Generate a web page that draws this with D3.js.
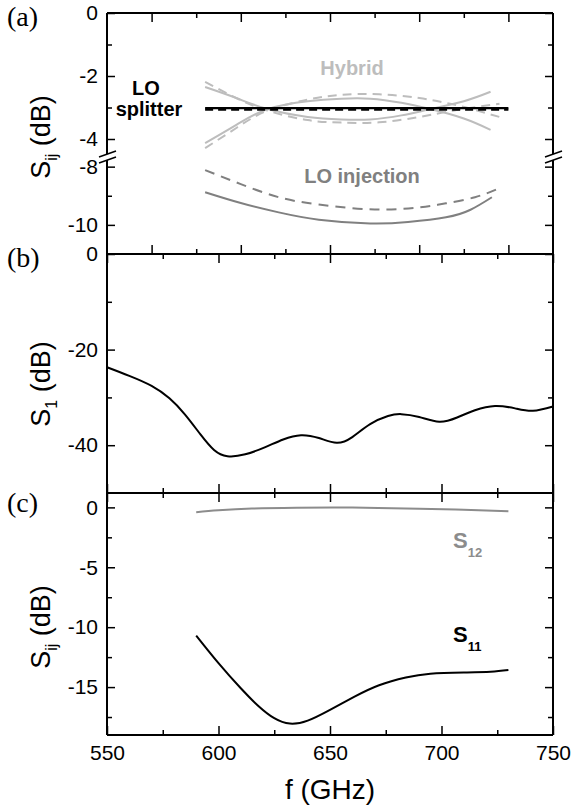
<!DOCTYPE html>
<html>
<head>
<meta charset="utf-8">
<script src="https://cdn.jsdelivr.net/npm/d3@7"></script>
<style>
  body { margin: 0; background: #fff; }
  text { font-family: "Liberation Sans", Arial, sans-serif; }
</style>
</head>
<body>
<div id="chart"></div>
<script>
// ---- data ----
// panel (a): hybrid, LO splitter, LO injection (GHz, dB)
const hybSolidFreq = [594, 608, 622, 640, 655, 668, 682, 695, 710, 722];
const hybSolidA = [-2.35, -2.7, -3.05, -3.3, -3.38, -3.38, -3.25, -3.05, -2.8, -2.5];
const hybSolidB = [-4.13, -3.55, -3.05, -2.8, -2.72, -2.72, -2.85, -3.05, -3.35, -3.71];
const hybDashFreq = [594, 608, 622, 640, 655, 672, 690, 705, 716, 726];
const hybDashA = [-2.19, -2.7, -3.1, -3.4, -3.48, -3.47, -3.3, -3.1, -2.98, -2.88];
const hybDashB = [-4.29, -3.65, -3.1, -2.75, -2.6, -2.58, -2.7, -2.9, -3.1, -3.3];
const splitFreq = [594, 730];
const splitSolid = [-3.02, -3.02];
const splitDash = [-3.07, -3.07];
const injSolidFreq = [594, 610, 627, 645, 668, 685, 702, 713, 722.6];
const injSolid = [-8.88, -9.25, -9.57, -9.82, -9.95, -9.9, -9.74, -9.48, -9.05];
const injDashFreq = [594, 610, 627, 645, 670, 690, 702, 715, 726];
const injDash = [-8.12, -8.6, -9.05, -9.3, -9.47, -9.4, -9.26, -9.05, -8.74];

// panel (b)
const bFreq = [550, 560, 570, 578, 585, 592, 598, 604, 612, 621, 629, 637, 645, 653, 660, 668, 676, 682, 690, 699, 707, 715, 724, 733, 741, 750];
const bVal = [-23.7, -25.5, -27.6, -30.2, -33.6, -37.8, -41.0, -42.3, -41.9, -40.4, -38.8, -37.9, -38.5, -39.5, -38.3, -35.6, -33.9, -33.5, -34.1, -35.1, -34.2, -32.7, -31.8, -32.3, -32.8, -31.9];

// panel (c)
const s12Freq = [590, 600, 615, 635, 660, 690, 710, 730];
const s12Val = [-0.4, -0.25, -0.1, -0.03, -0.02, -0.12, -0.2, -0.33];
const s11Freq = [590, 600, 610, 618, 625, 632, 640, 650, 661, 672, 684, 695, 710, 722, 730];
const s11Val = [-10.7, -13.0, -15.1, -16.6, -17.6, -18.05, -17.8, -16.9, -15.8, -14.85, -14.2, -13.88, -13.78, -13.72, -13.58];

// tick values
const xMajor = [550, 600, 650, 700, 750];
const xMinor = [575, 625, 675, 725];
const aTopMajor = [570, 610, 650, 690, 730];
const aTopMinor = [590, 630, 670, 710];
const aUpperMajor = [0, -2, -4];
const aUpperMinor = [-1, -3];
const aLowerMajor = [-8, -10];
const aLowerMinor = [-9];
const bMajor = [0, -20, -40];
const bMinor = [-10, -30];
const cMajor = [0, -5, -10, -15];
const cMinor = [-2.5, -7.5, -12.5, -17.5];

const W = 572, H = 809;
const svg = d3.select("#chart").append("svg")
    .attr("width", W).attr("height", H);

const L = 107, R = 553;
const aTop = 13, aBot = 254, bBot = 493, cBot = 735, brk = 157;

const x = d3.scaleLinear().domain([550, 750]).range([L, R]);
const yA1 = d3.scaleLinear().domain([-4.5, 0]).range([154.75, aTop]);
const yA2 = d3.scaleLinear().domain([-11, -7.6]).range([aBot, 155]);
const yB = d3.scaleLinear().domain([-50, 0]).range([bBot, aBot]);
const yC = d3.scaleLinear().domain([-19, 1.2]).range([cBot, bBot]);

const zip = (f, v) => f.map((d, i) => [d, v[i]]);
const plain = d => String(d);

function drawLine(ys, f, v, color, dash, width) {
    const line = d3.line()
        .x(d => x(d[0]))
        .y(d => ys(d[1]))
        .curve(d3.curveNatural);
    svg.append("path")
        .attr("d", line(zip(f, v)))
        .attr("fill", "none")
        .attr("stroke", color)
        .attr("stroke-width", width || 2)
        .attr("stroke-dasharray", dash || null);
}

// y axis ticks on both sides (inward)
function yTicks(scale, major, minor) {
    svg.append("g").attr("transform", `translate(${L},0)`)
        .call(d3.axisLeft(scale).tickValues(major).tickSize(-8).tickPadding(9).tickFormat(plain));
    svg.append("g").attr("transform", `translate(${L},0)`)
        .call(d3.axisLeft(scale).tickValues(minor).tickSize(-5).tickFormat(""));
    svg.append("g").attr("transform", `translate(${R},0)`)
        .call(d3.axisRight(scale).tickValues(major).tickSize(-8).tickFormat(""));
    svg.append("g").attr("transform", `translate(${R},0)`)
        .call(d3.axisRight(scale).tickValues(minor).tickSize(-5).tickFormat(""));
}

// x ticks pointing into a panel; dir = 1 -> down, -1 -> up
function xTicks(yPos, major, minor, dir, labels) {
    const mk = dir > 0 ? d3.axisTop : d3.axisBottom;
    svg.append("g").attr("transform", `translate(0,${yPos})`)
        .call(mk(x).tickValues(major).tickSize(-9).tickPadding(labels ? 10 : 0)
            .tickFormat(labels ? plain : ""));
    svg.append("g").attr("transform", `translate(0,${yPos})`)
        .call(mk(x).tickValues(minor).tickSize(-5).tickFormat(""));
}

yTicks(yA1, aUpperMajor, aUpperMinor);
yTicks(yA2, aLowerMajor, aLowerMinor);
yTicks(yB, bMajor, bMinor);
yTicks(yC, cMajor, cMinor);

xTicks(aTop, aTopMajor, aTopMinor, 1, false);
xTicks(aBot, aTopMajor, aTopMinor, -1, false);
xTicks(aBot, xMajor, xMinor, 1, false);
xTicks(bBot, xMajor, xMinor, -1, false);
xTicks(bBot, xMajor, xMinor, 1, false);
xTicks(cBot, xMajor, xMinor, -1, true);

svg.selectAll(".domain").remove();
svg.selectAll(".tick line").attr("stroke", "#000").attr("stroke-width", 1.5);
svg.selectAll(".tick text").attr("font-size", 21).attr("fill", "#000")
    .style("font-family", "'Liberation Sans', Arial, sans-serif");

// frames
const frame = svg.append("g").attr("stroke", "#000").attr("stroke-width", 2).attr("fill", "none");
[[L, aTop, R, aTop], [L, aBot, R, aBot], [L, bBot, R, bBot], [L, cBot, R, cBot],
 [L, aTop, L, brk - 3], [L, brk + 3, L, cBot], [R, aTop, R, brk - 3], [R, brk + 3, R, cBot]]
    .forEach(s => frame.append("line").attr("x1", s[0]).attr("y1", s[1]).attr("x2", s[2]).attr("y2", s[3]));
// axis break marks
[L, R].forEach(cx => {
    [-3, 3].forEach(o => {
        svg.append("line")
            .attr("x1", cx - 8).attr("y1", brk + o + 3)
            .attr("x2", cx + 9).attr("y2", brk + o - 3)
            .attr("stroke", "#000").attr("stroke-width", 1.5);
    });
});

// panel (a) curves
const hybC = "#bdbdbd", injC = "#808080";
drawLine(yA1, hybDashFreq, hybDashA, hybC, "9,6");
drawLine(yA1, hybDashFreq, hybDashB, hybC, "9,6");
drawLine(yA1, hybSolidFreq, hybSolidA, hybC);
drawLine(yA1, hybSolidFreq, hybSolidB, hybC);
drawLine(yA1, splitFreq, splitSolid, "#000", null, 2.2);
drawLine(yA1, splitFreq, splitDash, "#000", "8,5", 2.2);
drawLine(yA2, injDashFreq, injDash, injC, "10,7");
drawLine(yA2, injSolidFreq, injSolid, injC);

// panel (b)
drawLine(yB, bFreq, bVal, "#000");

// panel (c)
drawLine(yC, s12Freq, s12Val, "#8c8c8c");
drawLine(yC, s11Freq, s11Val, "#000");

// annotations
function label(tx, ty, txt, color, size) {
    return svg.append("text").attr("x", tx).attr("y", ty).attr("text-anchor", "middle")
        .attr("font-size", size || 20).attr("font-weight", "bold").attr("fill", color).text(txt);
}
label(146, 95, "LO", "#000");
label(149, 116, "splitter", "#000");
label(352, 75, "Hybrid", hybC);
label(362, 183, "LO injection", injC);

function sLabel(tx, ty, sub, color) {
    const t = svg.append("text").attr("x", tx).attr("y", ty).attr("font-weight", "bold")
        .attr("fill", color).attr("font-size", 22);
    t.append("tspan").text("S");
    t.append("tspan").attr("font-size", 13).attr("dy", 9).text(sub);
}
sLabel(453, 548, "12", "#8c8c8c");
sLabel(453, 642, "11", "#000");

// axis titles
function yTitle(cy, sub) {
    const t = svg.append("text").attr("transform", `translate(50,${cy}) rotate(-90)`)
        .attr("text-anchor", "middle").attr("font-size", 27).attr("fill", "#000");
    t.append("tspan").text("S");
    t.append("tspan").attr("font-size", 16).attr("dy", 7).text(sub);
    t.append("tspan").attr("dy", -7).text(" (dB)");
}
yTitle(137, "ij");
yTitle(384, "1");
yTitle(627, "ij");

svg.append("text").attr("x", 330).attr("y", 799).attr("text-anchor", "middle")
    .attr("font-size", 28).attr("fill", "#000").text("f (GHz)");

// panel letters
[["(a)", 26], ["(b)", 267], ["(c)", 512]].forEach(p => {
    svg.append("text").attr("x", 7).attr("y", p[1]).attr("font-size", 28)
        .style("font-family", "'Liberation Serif', 'Times New Roman', serif").text(p[0]);
});
</script>
</body>
</html>
